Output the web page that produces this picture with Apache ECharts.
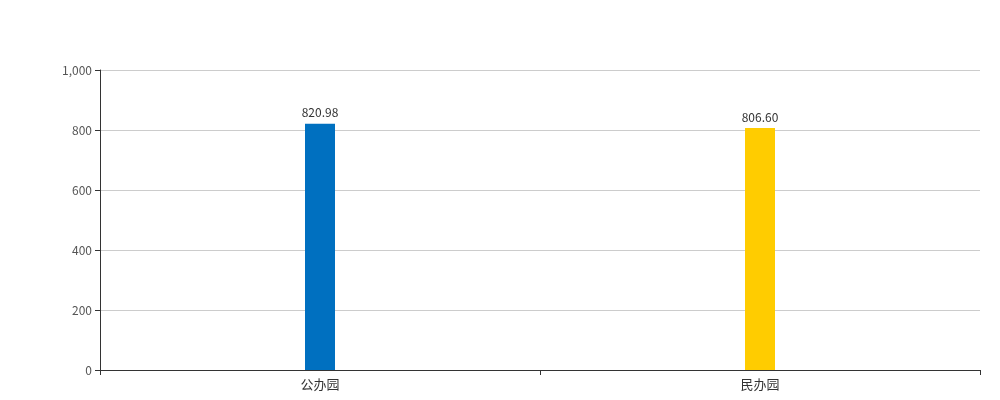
<!DOCTYPE html>
<html>
<head>
<meta charset="utf-8">
<script src="https://cdn.jsdelivr.net/npm/echarts@6/dist/echarts.min.js"></script>
<style>
  html, body { margin: 0; padding: 0; background: #fff; }
  #chart { width: 1000px; height: 400px; }
</style>
</head>
<body>
<div id="chart"></div>
<script>
// 园所类别及数值
const categories = ['公办园', '民办园']
const values = [820.98, 806.60]
const barColors = ['#0070C0', '#FFCC00']

const chart = echarts.init(document.getElementById('chart'))

const option = {
  animation: false,
  textStyle: { fontFamily: '"Noto Sans CJK SC", "Noto Sans", sans-serif' },
  grid: { left: 100, right: 20, top: 70, bottom: 30, containLabel: false },
  xAxis: {
    type: 'category',
    data: categories,
    axisLine: { lineStyle: { color: '#333' } },
    axisTick: { show: true, lineStyle: { color: '#333' } },
    axisLabel: { color: '#333', fontSize: 13 }
  },
  yAxis: {
    type: 'value',
    min: 0,
    max: 1000,
    interval: 200,
    axisLine: { show: true, lineStyle: { color: '#333' } },
    axisTick: { show: true, lineStyle: { color: '#333' } },
    axisLabel: { color: '#555', fontSize: 12 },
    splitLine: { lineStyle: { color: '#ccc' } }
  },
  series: [
    {
      type: 'bar',
      barWidth: 30,
      data: values.map((v, i) => ({ value: v, itemStyle: { color: barColors[i] } })),
      label: {
        show: true,
        position: 'top',
        color: '#333',
        fontSize: 12,
        formatter: p => p.value.toFixed(2)
      }
    }
  ]
}

chart.setOption(option)
</script>
</body>
</html>
